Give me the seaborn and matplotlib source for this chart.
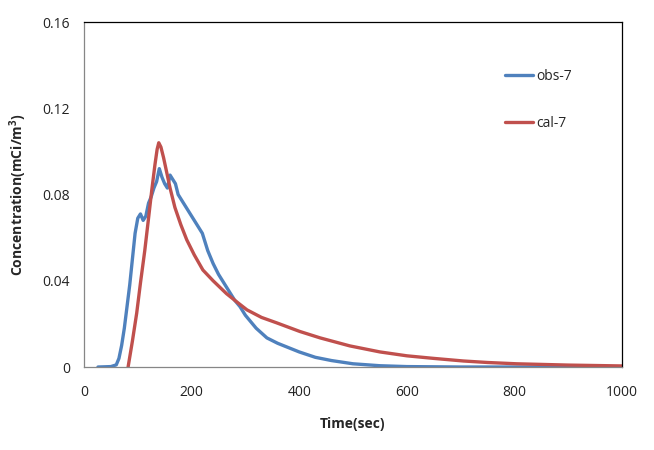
import matplotlib
matplotlib.use("Agg")
import matplotlib.pyplot as plt
import seaborn as sns
import pandas as pd

# ---- data ----
obs_time = [26, 50, 60, 65, 70, 75, 80, 85, 90, 95, 100, 105, 110, 115, 120,
            125, 130, 135, 140, 145, 150, 155, 160, 165, 170, 175, 180, 190,
            200, 210, 220, 230, 240, 250, 260, 270, 280, 290, 300, 320, 340,
            360, 380, 400, 430, 460, 500, 550, 600, 700, 800, 1000]
obs_conc = [0.0, 0.0002, 0.001, 0.004, 0.010, 0.018, 0.028, 0.038, 0.050,
            0.062, 0.069, 0.071, 0.068, 0.070, 0.076, 0.079, 0.083, 0.086,
            0.092, 0.088, 0.085, 0.083, 0.089, 0.087, 0.085, 0.080, 0.078,
            0.074, 0.070, 0.066, 0.062, 0.054, 0.048, 0.043, 0.039, 0.035,
            0.031, 0.028, 0.024, 0.018, 0.0135, 0.011, 0.009, 0.007, 0.0045,
            0.003, 0.0015, 0.0006, 0.0002, 0.0, 0.0, 0.0]

cal_time = [82, 90, 98, 105, 113, 120, 126, 132, 136, 139, 143, 148, 154,
            160, 169, 180, 191, 205, 221, 240, 265, 285, 303, 330, 358, 401,
            439, 494, 550, 600, 650, 705, 750, 804, 900, 1000]
cal_conc = [0.0, 0.012, 0.025, 0.039, 0.054, 0.069, 0.082, 0.094, 0.101,
            0.104, 0.102, 0.097, 0.090, 0.083, 0.074, 0.066, 0.059, 0.052,
            0.045, 0.040, 0.034, 0.030, 0.0265, 0.023, 0.0205, 0.0165,
            0.0135, 0.0098, 0.007, 0.0052, 0.0040, 0.0028, 0.0021, 0.0015,
            0.0009, 0.0005]

x_ticks = [0, 200, 400, 600, 800, 1000]
y_ticks = [0, 0.04, 0.08, 0.12, 0.16]
y_tick_labels = ["0", "0.04", "0.08", "0.12", "0.16"]

sns.set_theme(style="white")
plt.rcParams["font.family"] = ["Open Sans", "DejaVu Sans"]
plt.rcParams["mathtext.default"] = "regular"

fig = plt.figure(figsize=(6.54, 4.5), dpi=100)
ax = fig.add_axes([0.1284, 0.1844, 0.9511 - 0.1284, 0.9511 - 0.1844])

df_obs = pd.DataFrame({"t": obs_time, "c": obs_conc})
df_cal = pd.DataFrame({"t": cal_time, "c": cal_conc})

sns.lineplot(data=df_obs, x="t", y="c", ax=ax, color="#4F81BD", lw=2.4,
             label="obs-7", estimator=None, sort=False)
sns.lineplot(data=df_cal, x="t", y="c", ax=ax, color="#C0504D", lw=2.4,
             label="cal-7", estimator=None, sort=False)

ax.set_xlim(0, 1000)
ax.set_ylim(0, 0.16)
ax.set_xticks(x_ticks)
ax.set_xticklabels([str(v) for v in x_ticks])
ax.set_yticks(y_ticks)
ax.set_yticklabels(y_tick_labels)
ax.tick_params(axis="both", which="major", direction="out", length=4,
               width=0.8, color="#868686", labelsize=10, labelcolor="#222222")
ax.tick_params(axis="x", pad=9)
ax.tick_params(axis="y", pad=6)

for side in ["left", "bottom"]:
    ax.spines[side].set_color("#868686")
    ax.spines[side].set_linewidth(0.9)
for side in ["top", "right"]:
    ax.spines[side].set_color("black")
    ax.spines[side].set_linewidth(0.9)

ax.set_xlabel("Time(sec)", fontsize=10, fontweight="bold", labelpad=12)
ax.set_ylabel("Concentration(mCi/m$^{3}$)", fontsize=10, fontweight="bold",
              labelpad=10)

leg = ax.legend(loc="upper left", bbox_to_anchor=(0.76, 0.90), frameon=False,
                fontsize=10, handlelength=2.0, handletextpad=0.2,
                labelspacing=2.3)

fig.savefig("out.png", dpi=100)
